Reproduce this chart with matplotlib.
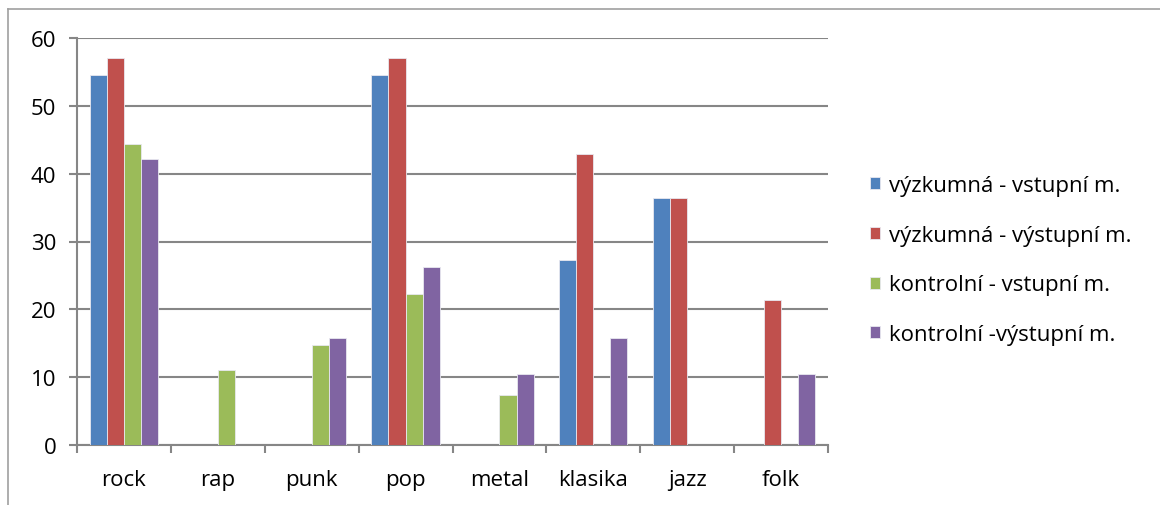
import numpy as np
import matplotlib
matplotlib.use('Agg')
from matplotlib import pyplot as plt
from matplotlib.lines import Line2D

plt.rcParams['font.family'] = ['Open Sans', 'DejaVu Sans']

# Data
categories = ['rock', 'rap', 'punk', 'pop', 'metal', 'klasika', 'jazz', 'folk']
series_names = ['výzkumná - vstupní m.', 'výzkumná - výstupní m.',
                'kontrolní - vstupní m.', 'kontrolní -výstupní m.']
vyzk_vstup = [54.5, 0, 0, 54.5, 0, 27.3, 36.4, 0]
vyzk_vystup = [57.1, 0, 0, 57.1, 0, 42.9, 36.4, 21.4]
kontr_vstup = [44.4, 11.1, 14.8, 22.2, 7.4, 0, 0, 0]
kontr_vystup = [42.1, 0, 15.8, 26.3, 10.5, 15.8, 0, 10.5]
colors = ['#4F81BD', '#C0504D', '#9BBB59', '#8064A2']

series = [vyzk_vstup, vyzk_vystup, kontr_vstup, kontr_vystup]

fig = plt.figure(figsize=(11.6, 5.06), dpi=100)
ax = fig.add_axes([77 / 1160, 60 / 506, (828 - 77) / 1160, (446 - 39) / 506])

x = np.arange(len(categories))
w = 0.182
for i, (vals, c, name) in enumerate(zip(series, colors, series_names)):
    ax.bar(x + (i - 1.5) * w, vals, width=w, color=c, edgecolor='#e8e8f0',
           linewidth=0.6, label=name, zorder=3)

ax.set_xlim(-0.5, len(categories) - 0.5)
ax.set_ylim(0, 60)
ax.set_yticks(range(0, 61, 10))
ax.yaxis.grid(True, color='#868686', linewidth=1.5, zorder=0)
ax.set_axisbelow(True)

ax.set_xticks(x)
ax.set_xticklabels(categories)
ax.set_xticks(np.arange(-0.5, len(categories)), minor=True)
ax.tick_params(axis='x', which='major', length=0, pad=17, labelsize=16)
ax.tick_params(axis='x', which='minor', length=6, width=1.5, color='#868686')
ax.tick_params(axis='y', length=6, width=1.5, color='#868686', labelsize=16, pad=9)

for s in ['top', 'right']:
    ax.spines[s].set_visible(False)
for s in ['left', 'bottom']:
    ax.spines[s].set_color('#868686')
    ax.spines[s].set_linewidth(1.5)

# chart area border (left and top visible)
fig.add_artist(Line2D([8 / 1160, 8 / 1160], [0, 1 - 10 / 506], color='#a0a0a0', linewidth=1.2))
fig.add_artist(Line2D([8 / 1160, 1], [1 - 10 / 506, 1 - 10 / 506], color='#a0a0a0', linewidth=1.2))

ax.legend(loc='center left', bbox_to_anchor=(850 / 1160, 1 - 261 / 506),
          bbox_transform=fig.transFigure, frameon=False, fontsize=16,
          handlelength=0.45, handleheight=0.45, handletextpad=0.4,
          labelspacing=1.3)

plt.savefig('out.png', dpi=100)
